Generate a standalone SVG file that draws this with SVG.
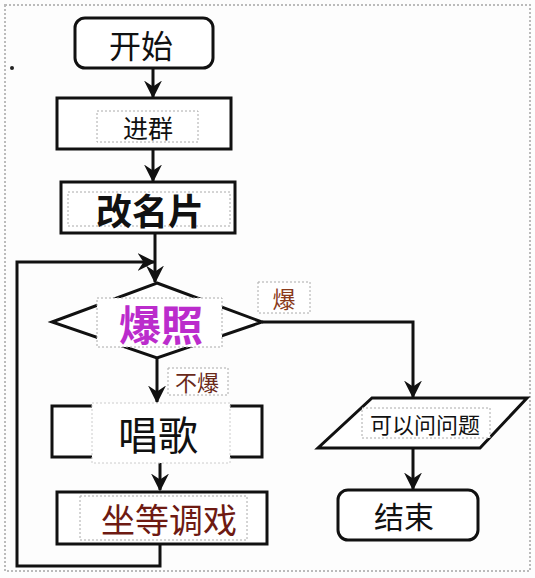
<svg xmlns="http://www.w3.org/2000/svg" width="535" height="578" viewBox="0 0 535 578">
<defs>
<marker id="ah" viewBox="0 0 12 12" refX="11" refY="6" markerWidth="6" markerHeight="6" orient="auto" markerUnits="strokeWidth">
<path d="M0,0 L12,6 L0,12 L4,6 z" fill="#111"/>
</marker>
</defs>
<style>
.shape{fill:#fff;stroke:#111;stroke-width:3}
.tb{fill:#fff;stroke:#aaa;stroke-width:1;stroke-dasharray:2,2}
.conn{fill:none;stroke:#111;stroke-width:3}
text{font-family:"Noto Sans CJK SC","Noto Sans",sans-serif;text-anchor:middle;dominant-baseline:central;fill:#111}
</style>
<rect x="0" y="0" width="535" height="578" fill="#fdfdfd"/>
<rect x="5" y="5" width="525" height="566" fill="none" stroke="#bbb" stroke-width="2" stroke-dasharray="2,2"/>
<circle cx="12" cy="68" r="2" fill="#222"/>
<g id="connectors">
<line class="conn" x1="153" y1="68" x2="153" y2="97" marker-end="url(#ah)"/>
<line class="conn" x1="153" y1="149" x2="153" y2="181" marker-end="url(#ah)"/>
<line class="conn" x1="155" y1="233" x2="155" y2="282" marker-end="url(#ah)"/>
<polyline class="conn" points="160,544 160,566 17,566 17,262 154,262" marker-end="url(#ah)"/>
<line class="conn" x1="157" y1="358" x2="157" y2="402" marker-end="url(#ah)"/>
<line class="conn" x1="160" y1="463" x2="160" y2="490" marker-end="url(#ah)"/>
<polyline class="conn" points="262,322 413,322 413,397" marker-end="url(#ah)"/>
<line class="conn" x1="413" y1="448" x2="413" y2="489" marker-end="url(#ah)"/>
</g>
<g id="start">
<rect class="shape" x="75" y="18" width="138" height="50" rx="10"/>
<text x="141" y="44" font-size="32">开始</text>
</g>
<g id="join">
<rect class="shape" x="57" y="98" width="174" height="51"/>
<rect class="tb" x="97" y="111" width="101" height="31"/>
<text x="148" y="127" font-size="25">进群</text>
</g>
<g id="rename">
<rect class="shape" x="61" y="182" width="174" height="51"/>
<rect class="tb" x="68" y="192" width="162" height="34"/>
<text x="150" y="209" font-size="36" font-weight="bold">改名片</text>
</g>
<g id="decision">
<polygon class="shape" points="157,283 262,322 157,358 52,322"/>
<rect class="tb" x="97" y="298" width="125" height="49"/>
<text x="161" y="322" font-size="42" font-weight="bold" style="fill:#bb2ccc">爆照</text>
</g>
<g id="label-no">
<rect class="tb" x="168" y="368" width="60" height="27"/>
<text x="197" y="381" font-size="22" style="fill:#6a2a1a">不爆</text>
</g>
<g id="label-yes">
<rect class="tb" x="258" y="282" width="52" height="31"/>
<text x="284" y="298" font-size="23" style="fill:#8a3a1a">爆</text>
</g>
<g id="sing">
<rect class="shape" x="52" y="406" width="210" height="51"/>
<rect class="tb" x="92" y="403" width="138" height="60" style="stroke:#ccc"/>
<text x="158" y="433" font-size="40">唱歌</text>
</g>
<g id="wait">
<rect class="shape" x="57" y="492" width="210" height="52"/>
<rect class="tb" x="80" y="496" width="167" height="44"/>
<text x="169" y="518" font-size="34" style="fill:#6e1a12">坐等调戏</text>
</g>
<g id="ask">
<polygon class="shape" points="372,398 527,398 480,448 318,448"/>
<rect class="tb" x="362" y="408" width="128" height="30"/>
<text x="425" y="423" font-size="22">可以问问题</text>
</g>
<g id="end">
<rect class="shape" x="338" y="490" width="140" height="50" rx="10"/>
<text x="404" y="515" font-size="30">结束</text>
</g>
</svg>
